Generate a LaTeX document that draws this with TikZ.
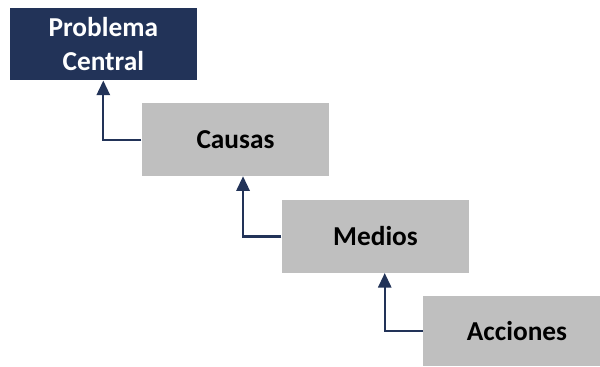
\documentclass[tikz,border=0pt]{standalone}
\usepackage{fontspec}
\setmainfont{Carlito}
\usetikzlibrary{arrows.meta,calc}
\definecolor{navy}{RGB}{34,51,88}
\definecolor{boxgray}{RGB}{191,191,191}
\begin{document}
\begin{tikzpicture}[x=0.75pt,y=-0.75pt,
  level/.style={minimum width=187.6*0.75pt, minimum height=72.6*0.75pt,
    inner sep=0pt, align=center, font=\fontsize{20.5}{25.5}\selectfont\bfseries},
  graybox/.style={level, fill=boxgray, text=black},
  topbox/.style={level, fill=navy, text=white},
  link/.style={draw=navy, line width=1.6pt, -{Triangle[width=10pt,length=11pt]}}]
\useasboundingbox (0,0) rectangle (600,367);
\clip (0,0) rectangle (600,367);
% the four levels of the staircase
\node[topbox]  (problema) at (103.3,44.0)  {Problema\\Central};
\node[graybox] (causas)   at (235.5,139.7) {Causas};
\node[graybox] (medios)   at (375.5,236.5) {Medios};
\node[graybox, minimum height=70*0.75pt] (acciones) at (517.0,331.0) {Acciones};
% elbow connectors from each level up to the one above
\draw[link] (causas.west) -| (problema.south);
\draw[link] (medios.west) -| ($(causas.south west)+(101.6,0)$);
\draw[link] (acciones.west) -| ($(medios.south west)+(103.3,0)$);
\end{tikzpicture}
\end{document}
